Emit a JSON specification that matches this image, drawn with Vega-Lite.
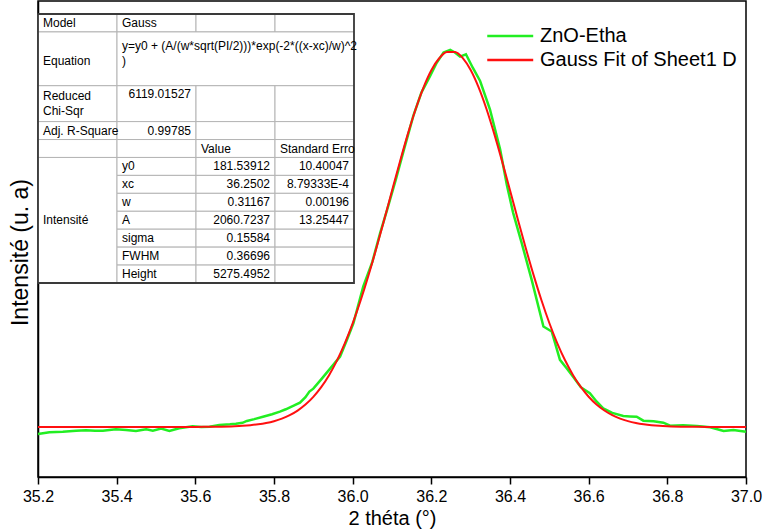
{
  "$schema": "https://vega.github.io/schema/vega-lite/v6.json",
  "width": 708,
  "height": 476,
  "autosize": {"type": "none"},
  "padding": {"left": 38, "top": 1, "right": 18, "bottom": 53},
  "background": "white",
  "config": {"view": {"stroke": "#000", "strokeWidth": 1.5}, "font": "Liberation Sans"},
  "datasets": {
    "green": [
      {"x": 35.200, "y": 83, "s": "ZnO-Etha"}, {"x": 35.229, "y": 107, "s": "ZnO-Etha"}, {"x": 35.263, "y": 115, "s": "ZnO-Etha"},
      {"x": 35.297, "y": 130, "s": "ZnO-Etha"}, {"x": 35.322, "y": 135, "s": "ZnO-Etha"}, {"x": 35.345, "y": 128, "s": "ZnO-Etha"},
      {"x": 35.365, "y": 130, "s": "ZnO-Etha"}, {"x": 35.398, "y": 149, "s": "ZnO-Etha"}, {"x": 35.424, "y": 139, "s": "ZnO-Etha"},
      {"x": 35.449, "y": 125, "s": "ZnO-Etha"}, {"x": 35.475, "y": 149, "s": "ZnO-Etha"}, {"x": 35.492, "y": 130, "s": "ZnO-Etha"},
      {"x": 35.513, "y": 158, "s": "ZnO-Etha"}, {"x": 35.534, "y": 125, "s": "ZnO-Etha"}, {"x": 35.559, "y": 163, "s": "ZnO-Etha"},
      {"x": 35.593, "y": 191, "s": "ZnO-Etha"}, {"x": 35.615, "y": 180, "s": "ZnO-Etha"}, {"x": 35.636, "y": 186, "s": "ZnO-Etha"},
      {"x": 35.661, "y": 210, "s": "ZnO-Etha"}, {"x": 35.688, "y": 220, "s": "ZnO-Etha"}, {"x": 35.703, "y": 228, "s": "ZnO-Etha"},
      {"x": 35.720, "y": 240, "s": "ZnO-Etha"}, {"x": 35.731, "y": 266, "s": "ZnO-Etha"}, {"x": 35.750, "y": 292, "s": "ZnO-Etha"},
      {"x": 35.772, "y": 326, "s": "ZnO-Etha"}, {"x": 35.795, "y": 360, "s": "ZnO-Etha"}, {"x": 35.815, "y": 397, "s": "ZnO-Etha"},
      {"x": 35.830, "y": 430, "s": "ZnO-Etha"}, {"x": 35.850, "y": 480, "s": "ZnO-Etha"}, {"x": 35.866, "y": 523, "s": "ZnO-Etha"},
      {"x": 35.880, "y": 600, "s": "ZnO-Etha"}, {"x": 35.890, "y": 678, "s": "ZnO-Etha"}, {"x": 35.900, "y": 720, "s": "ZnO-Etha"},
      {"x": 35.920, "y": 850, "s": "ZnO-Etha"}, {"x": 35.940, "y": 983, "s": "ZnO-Etha"}, {"x": 35.968, "y": 1170, "s": "ZnO-Etha"},
      {"x": 35.985, "y": 1400, "s": "ZnO-Etha"}, {"x": 36.002, "y": 1640, "s": "ZnO-Etha"}, {"x": 36.027, "y": 2155, "s": "ZnO-Etha"},
      {"x": 36.050, "y": 2500, "s": "ZnO-Etha"}, {"x": 36.070, "y": 2907, "s": "ZnO-Etha"}, {"x": 36.087, "y": 3220, "s": "ZnO-Etha"},
      {"x": 36.110, "y": 3660, "s": "ZnO-Etha"}, {"x": 36.130, "y": 4070, "s": "ZnO-Etha"}, {"x": 36.154, "y": 4547, "s": "ZnO-Etha"},
      {"x": 36.175, "y": 4880, "s": "ZnO-Etha"}, {"x": 36.197, "y": 5110, "s": "ZnO-Etha"}, {"x": 36.214, "y": 5299, "s": "ZnO-Etha"},
      {"x": 36.231, "y": 5440, "s": "ZnO-Etha"}, {"x": 36.248, "y": 5476, "s": "ZnO-Etha"}, {"x": 36.260, "y": 5440, "s": "ZnO-Etha"},
      {"x": 36.273, "y": 5383, "s": "ZnO-Etha"}, {"x": 36.288, "y": 5415, "s": "ZnO-Etha"}, {"x": 36.305, "y": 5230, "s": "ZnO-Etha"},
      {"x": 36.324, "y": 5040, "s": "ZnO-Etha"}, {"x": 36.349, "y": 4642, "s": "ZnO-Etha"}, {"x": 36.375, "y": 4079, "s": "ZnO-Etha"},
      {"x": 36.392, "y": 3580, "s": "ZnO-Etha"}, {"x": 36.408, "y": 3188, "s": "ZnO-Etha"}, {"x": 36.430, "y": 2760, "s": "ZnO-Etha"},
      {"x": 36.455, "y": 2250, "s": "ZnO-Etha"}, {"x": 36.485, "y": 1593, "s": "ZnO-Etha"}, {"x": 36.506, "y": 1522, "s": "ZnO-Etha"},
      {"x": 36.527, "y": 1124, "s": "ZnO-Etha"}, {"x": 36.545, "y": 1000, "s": "ZnO-Etha"}, {"x": 36.560, "y": 889, "s": "ZnO-Etha"},
      {"x": 36.580, "y": 740, "s": "ZnO-Etha"}, {"x": 36.603, "y": 656, "s": "ZnO-Etha"}, {"x": 36.620, "y": 540, "s": "ZnO-Etha"},
      {"x": 36.637, "y": 444, "s": "ZnO-Etha"}, {"x": 36.660, "y": 380, "s": "ZnO-Etha"}, {"x": 36.688, "y": 336, "s": "ZnO-Etha"},
      {"x": 36.705, "y": 330, "s": "ZnO-Etha"}, {"x": 36.722, "y": 326, "s": "ZnO-Etha"}, {"x": 36.739, "y": 270, "s": "ZnO-Etha"},
      {"x": 36.765, "y": 262, "s": "ZnO-Etha"}, {"x": 36.790, "y": 242, "s": "ZnO-Etha"}, {"x": 36.807, "y": 200, "s": "ZnO-Etha"},
      {"x": 36.840, "y": 205, "s": "ZnO-Etha"}, {"x": 36.875, "y": 196, "s": "ZnO-Etha"}, {"x": 36.909, "y": 177, "s": "ZnO-Etha"},
      {"x": 36.943, "y": 125, "s": "ZnO-Etha"}, {"x": 36.968, "y": 139, "s": "ZnO-Etha"}, {"x": 37.000, "y": 115, "s": "ZnO-Etha"}
    ],
    "fit": [
      {"x": 35.20, "y": 181.5, "s": "Gauss Fit of Sheet1 D"}, {"x": 35.40, "y": 181.5, "s": "Gauss Fit of Sheet1 D"},
      {"x": 35.55, "y": 181.7, "s": "Gauss Fit of Sheet1 D"}, {"x": 35.60, "y": 182.4, "s": "Gauss Fit of Sheet1 D"},
      {"x": 35.65, "y": 184.7, "s": "Gauss Fit of Sheet1 D"}, {"x": 35.70, "y": 191.9, "s": "Gauss Fit of Sheet1 D"},
      {"x": 35.72, "y": 197.7, "s": "Gauss Fit of Sheet1 D"}, {"x": 35.74, "y": 206.4, "s": "Gauss Fit of Sheet1 D"},
      {"x": 35.76, "y": 219.0, "s": "Gauss Fit of Sheet1 D"}, {"x": 35.78, "y": 237.2, "s": "Gauss Fit of Sheet1 D"},
      {"x": 35.80, "y": 262.8, "s": "Gauss Fit of Sheet1 D"}, {"x": 35.82, "y": 298.3, "s": "Gauss Fit of Sheet1 D"},
      {"x": 35.84, "y": 346.6, "s": "Gauss Fit of Sheet1 D"}, {"x": 35.86, "y": 411.1, "s": "Gauss Fit of Sheet1 D"},
      {"x": 35.88, "y": 495.4, "s": "Gauss Fit of Sheet1 D"}, {"x": 35.90, "y": 603.9, "s": "Gauss Fit of Sheet1 D"},
      {"x": 35.92, "y": 740.4, "s": "Gauss Fit of Sheet1 D"}, {"x": 35.94, "y": 909.1, "s": "Gauss Fit of Sheet1 D"},
      {"x": 35.96, "y": 1112.9, "s": "Gauss Fit of Sheet1 D"}, {"x": 35.98, "y": 1354.8, "s": "Gauss Fit of Sheet1 D"},
      {"x": 36.00, "y": 1635.3, "s": "Gauss Fit of Sheet1 D"}, {"x": 36.02, "y": 1953.6, "s": "Gauss Fit of Sheet1 D"},
      {"x": 36.04, "y": 2305.7, "s": "Gauss Fit of Sheet1 D"}, {"x": 36.06, "y": 2686.2, "s": "Gauss Fit of Sheet1 D"},
      {"x": 36.08, "y": 3087.3, "s": "Gauss Fit of Sheet1 D"}, {"x": 36.10, "y": 3497.0, "s": "Gauss Fit of Sheet1 D"},
      {"x": 36.12, "y": 3902.7, "s": "Gauss Fit of Sheet1 D"}, {"x": 36.14, "y": 4290.1, "s": "Gauss Fit of Sheet1 D"},
      {"x": 36.16, "y": 4643.4, "s": "Gauss Fit of Sheet1 D"}, {"x": 36.18, "y": 4948.1, "s": "Gauss Fit of Sheet1 D"},
      {"x": 36.20, "y": 5190.2, "s": "Gauss Fit of Sheet1 D"}, {"x": 36.22, "y": 5358.9, "s": "Gauss Fit of Sheet1 D"},
      {"x": 36.24, "y": 5445.7, "s": "Gauss Fit of Sheet1 D"}, {"x": 36.26, "y": 5446.6, "s": "Gauss Fit of Sheet1 D"},
      {"x": 36.28, "y": 5361.5, "s": "Gauss Fit of Sheet1 D"}, {"x": 36.30, "y": 5194.4, "s": "Gauss Fit of Sheet1 D"},
      {"x": 36.32, "y": 4953.5, "s": "Gauss Fit of Sheet1 D"}, {"x": 36.34, "y": 4650.0, "s": "Gauss Fit of Sheet1 D"},
      {"x": 36.36, "y": 4297.4, "s": "Gauss Fit of Sheet1 D"}, {"x": 36.38, "y": 3910.9, "s": "Gauss Fit of Sheet1 D"},
      {"x": 36.40, "y": 3505.1, "s": "Gauss Fit of Sheet1 D"}, {"x": 36.42, "y": 3095.4, "s": "Gauss Fit of Sheet1 D"},
      {"x": 36.44, "y": 2694.3, "s": "Gauss Fit of Sheet1 D"}, {"x": 36.46, "y": 2313.3, "s": "Gauss Fit of Sheet1 D"},
      {"x": 36.48, "y": 1960.1, "s": "Gauss Fit of Sheet1 D"}, {"x": 36.50, "y": 1641.4, "s": "Gauss Fit of Sheet1 D"},
      {"x": 36.52, "y": 1360.1, "s": "Gauss Fit of Sheet1 D"}, {"x": 36.54, "y": 1117.7, "s": "Gauss Fit of Sheet1 D"},
      {"x": 36.56, "y": 912.8, "s": "Gauss Fit of Sheet1 D"}, {"x": 36.58, "y": 743.4, "s": "Gauss Fit of Sheet1 D"},
      {"x": 36.60, "y": 606.3, "s": "Gauss Fit of Sheet1 D"}, {"x": 36.62, "y": 497.4, "s": "Gauss Fit of Sheet1 D"},
      {"x": 36.64, "y": 412.6, "s": "Gauss Fit of Sheet1 D"}, {"x": 36.66, "y": 347.8, "s": "Gauss Fit of Sheet1 D"},
      {"x": 36.68, "y": 299.2, "s": "Gauss Fit of Sheet1 D"}, {"x": 36.70, "y": 263.4, "s": "Gauss Fit of Sheet1 D"},
      {"x": 36.72, "y": 237.6, "s": "Gauss Fit of Sheet1 D"}, {"x": 36.74, "y": 219.3, "s": "Gauss Fit of Sheet1 D"},
      {"x": 36.76, "y": 206.6, "s": "Gauss Fit of Sheet1 D"}, {"x": 36.78, "y": 197.8, "s": "Gauss Fit of Sheet1 D"},
      {"x": 36.80, "y": 192.0, "s": "Gauss Fit of Sheet1 D"}, {"x": 36.85, "y": 184.7, "s": "Gauss Fit of Sheet1 D"},
      {"x": 36.90, "y": 182.4, "s": "Gauss Fit of Sheet1 D"}, {"x": 36.95, "y": 181.7, "s": "Gauss Fit of Sheet1 D"},
      {"x": 37.00, "y": 181.5, "s": "Gauss Fit of Sheet1 D"}
    ],
    "cells": [
      {"c0": 0, "c1": 1, "r0": 0, "r1": 1}, {"c0": 1, "c1": 2, "r0": 0, "r1": 1}, {"c0": 2, "c1": 3, "r0": 0, "r1": 1}, {"c0": 3, "c1": 4, "r0": 0, "r1": 1},
      {"c0": 0, "c1": 1, "r0": 1, "r1": 4}, {"c0": 1, "c1": 4, "r0": 1, "r1": 4},
      {"c0": 0, "c1": 1, "r0": 4, "r1": 6}, {"c0": 1, "c1": 2, "r0": 4, "r1": 6}, {"c0": 2, "c1": 3, "r0": 4, "r1": 6}, {"c0": 3, "c1": 4, "r0": 4, "r1": 6},
      {"c0": 0, "c1": 1, "r0": 6, "r1": 7}, {"c0": 1, "c1": 2, "r0": 6, "r1": 7}, {"c0": 2, "c1": 3, "r0": 6, "r1": 7}, {"c0": 3, "c1": 4, "r0": 6, "r1": 7},
      {"c0": 0, "c1": 1, "r0": 7, "r1": 8}, {"c0": 1, "c1": 2, "r0": 7, "r1": 8}, {"c0": 2, "c1": 3, "r0": 7, "r1": 8}, {"c0": 3, "c1": 4, "r0": 7, "r1": 8},
      {"c0": 0, "c1": 1, "r0": 8, "r1": 15},
      {"c0": 1, "c1": 2, "r0": 8, "r1": 9}, {"c0": 2, "c1": 3, "r0": 8, "r1": 9}, {"c0": 3, "c1": 4, "r0": 8, "r1": 9},
      {"c0": 1, "c1": 2, "r0": 9, "r1": 10}, {"c0": 2, "c1": 3, "r0": 9, "r1": 10}, {"c0": 3, "c1": 4, "r0": 9, "r1": 10},
      {"c0": 1, "c1": 2, "r0": 10, "r1": 11}, {"c0": 2, "c1": 3, "r0": 10, "r1": 11}, {"c0": 3, "c1": 4, "r0": 10, "r1": 11},
      {"c0": 1, "c1": 2, "r0": 11, "r1": 12}, {"c0": 2, "c1": 3, "r0": 11, "r1": 12}, {"c0": 3, "c1": 4, "r0": 11, "r1": 12},
      {"c0": 1, "c1": 2, "r0": 12, "r1": 13}, {"c0": 2, "c1": 3, "r0": 12, "r1": 13}, {"c0": 3, "c1": 4, "r0": 12, "r1": 13},
      {"c0": 1, "c1": 2, "r0": 13, "r1": 14}, {"c0": 2, "c1": 3, "r0": 13, "r1": 14}, {"c0": 3, "c1": 4, "r0": 13, "r1": 14},
      {"c0": 1, "c1": 2, "r0": 14, "r1": 15}, {"c0": 2, "c1": 3, "r0": 14, "r1": 15}, {"c0": 3, "c1": 4, "r0": 14, "r1": 15}
    ],
    "frame": [{"c0": 0, "c1": 4, "r0": 0, "r1": 15}],
    "textL": [
      {"t": "Model", "c": 0, "r": 0.5}, {"t": "Gauss", "c": 1, "r": 0.5},
      {"t": "Equation", "c": 0, "r": 2.6},
      {"t": "y=y0 + (A/(w*sqrt(PI/2)))*exp(-2*((x-xc)/w)^2\n)", "c": 1, "r": 1.77},
      {"t": "Reduced\nChi-Sqr", "c": 0, "r": 4.55},
      {"t": "Adj. R-Square", "c": 0, "r": 6.5},
      {"t": "Value", "c": 2, "r": 7.5}, {"t": "Standard Erro", "c": 3, "r": 7.5},
      {"t": "Intensité", "c": 0, "r": 11.5},
      {"t": "y0", "c": 1, "r": 8.5}, {"t": "xc", "c": 1, "r": 9.5}, {"t": "w", "c": 1, "r": 10.5}, {"t": "A", "c": 1, "r": 11.5},
      {"t": "sigma", "c": 1, "r": 12.5}, {"t": "FWHM", "c": 1, "r": 13.5}, {"t": "Height", "c": 1, "r": 14.5}
    ],
    "textR": [
      {"t": "6119.01527", "c": 2, "r": 4.46}, {"t": "0.99785", "c": 2, "r": 6.5},
      {"t": "181.53912", "c": 3, "r": 8.5}, {"t": "36.2502", "c": 3, "r": 9.5}, {"t": "0.31167", "c": 3, "r": 10.5},
      {"t": "2060.7237", "c": 3, "r": 11.5}, {"t": "0.15584", "c": 3, "r": 12.5}, {"t": "0.36696", "c": 3, "r": 13.5},
      {"t": "5275.4952", "c": 3, "r": 14.5},
      {"t": "10.40047", "c": 4, "r": 8.5}, {"t": "8.79333E-4", "c": 4, "r": 9.5}, {"t": "0.00196", "c": 4, "r": 10.5},
      {"t": "13.25447", "c": 4, "r": 11.5}
    ]
  },
  "layer": [
    {
      "layer": [
        {
          "data": {"name": "green"},
          "mark": {"type": "line", "strokeWidth": 2.5},
          "encoding": {
            "x": {"field": "x", "type": "quantitative",
              "scale": {"domain": [35.2, 37.0], "nice": false, "zero": false},
              "axis": {"values": [35.2, 35.25, 35.3, 35.35, 35.4, 35.45, 35.5, 35.55, 35.6, 35.65, 35.7, 35.75, 35.8, 35.85, 35.9, 35.95, 36.0, 36.05, 36.1, 36.15, 36.2, 36.25, 36.3, 36.35, 36.4, 36.45, 36.5, 36.55, 36.6, 36.65, 36.7, 36.75, 36.8, 36.85, 36.9, 36.95, 37.0],
                "labelExpr": "abs(datum.value * 5 - round(datum.value * 5)) < 0.001 ? format(datum.value, '.1f') : ''",
                "tickSize": {"condition": {"test": "abs(datum.value * 5 - round(datum.value * 5)) < 0.001", "value": 7}, "value": 4},
                "title": "2 théta (°)", "grid": false, "labelFontSize": 16, "titleFontSize": 20,
                "labelFont": "Liberation Sans", "titleFont": "Liberation Sans", "titleFontWeight": "normal",
                "labelColor": "#000", "titleColor": "#000", "tickColor": "#000", "domainColor": "#000",
                "domainWidth": 1.5, "tickWidth": 1.5, "labelPadding": 4, "titlePadding": 4,
                "labelFlush": false, "labelOverlap": false}},
            "y": {"field": "y", "type": "quantitative",
              "scale": {"domain": [-521, 6163], "nice": false, "zero": false},
              "axis": {"title": "Intensité (u. a)", "labels": false, "ticks": false, "grid": false,
                "domainColor": "#000", "domainWidth": 1.5, "titleFontSize": 23, "titleFont": "Liberation Sans",
                "titleFontWeight": "normal", "titleColor": "#000", "titleX": -6, "titleY": 251,
                "titleAngle": -90, "titleBaseline": "bottom", "titleAlign": "center"}},
            "color": {"field": "s", "type": "nominal",
              "scale": {"domain": ["ZnO-Etha", "Gauss Fit of Sheet1 D"], "range": ["#22ee22", "#ff1010"]},
              "legend": {"orient": "none", "legendX": 445, "legendY": 25, "title": null, "padding": 0,
                "symbolType": "M-1,0L7,0", "symbolSize": 132, "symbolStrokeWidth": 2.5,
                "labelFontSize": 20, "labelFont": "Liberation Sans", "labelColor": "#000",
                "labelOffset": 37, "rowPadding": 4, "labelLimit": 400}}
          }
        },
        {
          "data": {"name": "fit"},
          "mark": {"type": "line", "strokeWidth": 2, "interpolate": "monotone"},
          "encoding": {
            "x": {"field": "x", "type": "quantitative"},
            "y": {"field": "y", "type": "quantitative"},
            "color": {"field": "s", "type": "nominal"}
          }
        }
      ]
    },
    {
      "layer": [
        {
          "data": {"name": "cells"},
          "mark": {"type": "rect", "fill": "white", "stroke": "#b4b4b4", "strokeWidth": 1},
          "encoding": {
            "x": {"field": "c0", "type": "quantitative", "scale": {"domain": [0, 8.962], "nice": false, "zero": false}, "axis": null},
            "x2": {"field": "c1"},
            "y": {"field": "r0", "type": "quantitative", "scale": {"domain": [-0.725, 25.818], "reverse": true, "nice": false, "zero": false}, "axis": null},
            "y2": {"field": "r1"}
          }
        },
        {
          "data": {"name": "frame"},
          "mark": {"type": "rect", "fill": null, "filled": false, "stroke": "#3a3a3a", "strokeWidth": 1.8},
          "encoding": {
            "x": {"field": "c0", "type": "quantitative"},
            "x2": {"field": "c1"},
            "y": {"field": "r0", "type": "quantitative"},
            "y2": {"field": "r1"}
          }
        },
        {
          "data": {"name": "textL"},
          "mark": {"type": "text", "align": "left", "baseline": "middle", "dx": 5, "fontSize": 12, "font": "Liberation Sans", "color": "#000", "lineBreak": "\n", "lineHeight": 15},
          "encoding": {
            "x": {"field": "c", "type": "quantitative"},
            "y": {"field": "r", "type": "quantitative"},
            "text": {"field": "t"}
          }
        },
        {
          "data": {"name": "textR"},
          "mark": {"type": "text", "align": "right", "baseline": "middle", "dx": -5, "fontSize": 12, "font": "Liberation Sans", "color": "#000"},
          "encoding": {
            "x": {"field": "c", "type": "quantitative"},
            "y": {"field": "r", "type": "quantitative"},
            "text": {"field": "t"}
          }
        }
      ]
    }
  ],
  "resolve": {"scale": {"x": "independent", "y": "independent", "color": "independent"}}
}
